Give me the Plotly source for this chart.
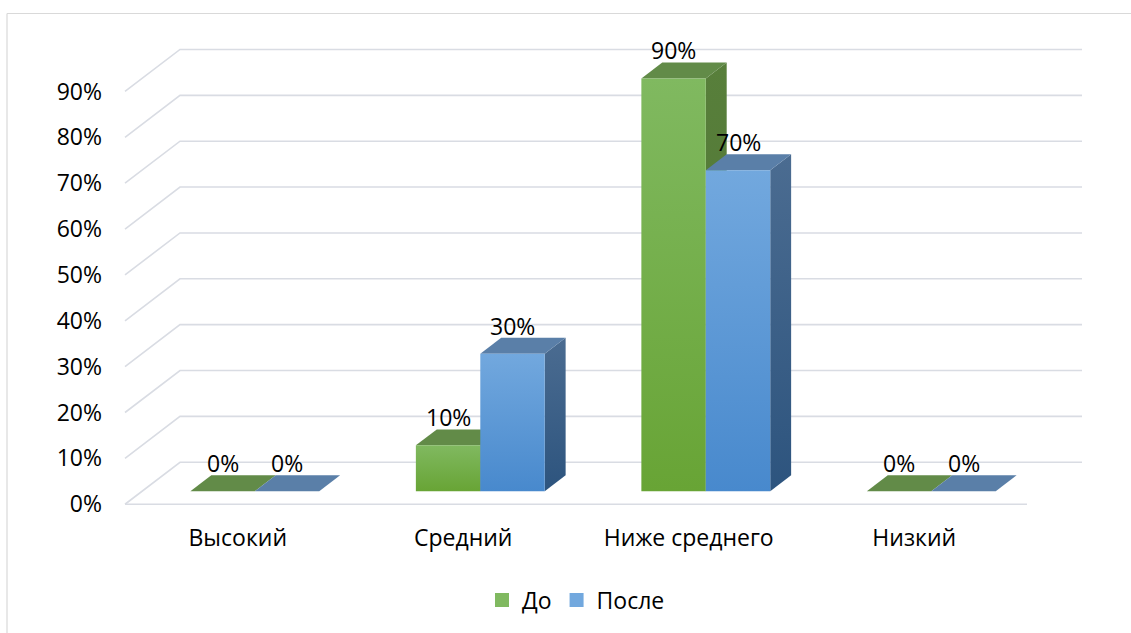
import plotly.graph_objects as go

# ---- data ----
categories = ["Высокий", "Средний", "Ниже среднего", "Низкий"]
before = [0, 10, 90, 0]    # До
after = [0, 30, 70, 0]     # После
series_names = ["До", "После"]
y_ticks = [0, 10, 20, 30, 40, 50, 60, 70, 80, 90]

# ---- page / projection setup (pixels) ----
W, H = 1131, 633
FRONT_L, FRONT_R = 125, 1027        # front plane, left/right
Y0_PX, Y90_PX = 504, 91             # front plane, 0% and 90%
DEPTH_PX = (55, 42)                 # shift from front plane to back wall
SX = (FRONT_R - FRONT_L) / len(categories)
SY = (Y0_PX - Y90_PX) / 90.0
DX = DEPTH_PX[0] / SX               # depth shift in axis units
DY = DEPTH_PX[1] / SY
D0, D1 = 0.31, 0.69                 # bar depth span (fraction of floor depth)
GAP = 1.5                           # gap width relative to bar width
BW = 1.0 / (2 + GAP)

L_M, R_M = 103, 22
YMIN, YMAX = -3.0, 101.0
XMIN = -(FRONT_L - L_M) / SX
XMAX = (W - R_M - FRONT_L) / SX
T_M = Y90_PX - (YMAX - 90) * SY
B_M = H - (Y0_PX - YMIN * SY)

FONT = "Open Sans"
FS = 23
GRID = "#d9dce3"

# face colours: (top of gradient, bottom of gradient)
STYLE = {
    "До": dict(front=("#80b960", "#68a435"), side=("#587f3b", "#4f7433"), top="#628b48"),
    "После": dict(front=("#72a8de", "#4889cd"), side=("#4b6c91", "#2d547e"), top="#5a7fa8"),
}

fig = go.Figure()

# ---- walls: back-wall gridlines with left-side diagonals, front floor edge ----
gx, gy = [], []
for t in y_ticks:
    gx += [0, DX, len(categories) + DX, None]
    gy += [t, t + DY, t + DY, None]
gx += [0, len(categories), None]
gy += [0, 0, None]
fig.add_trace(go.Scatter(x=gx, y=gy, mode="lines", line=dict(color=GRID, width=1.6),
                         hoverinfo="skip", showlegend=False))


def poly(xs, ys, fill, grad=None):
    kw = dict(x=xs + [xs[0]], y=ys + [ys[0]], mode="lines", fill="toself",
              line=dict(width=0), hoverinfo="skip", showlegend=False)
    if grad:
        kw["fillgradient"] = dict(type="vertical",
                                  colorscale=[[0, grad[1]], [1, grad[0]]])
        kw["fillcolor"] = grad[0]
    else:
        kw["fillcolor"] = fill
    fig.add_trace(go.Scatter(**kw))


ox0, oy0 = D0 * DX, D0 * DY
ox1, oy1 = D1 * DX, D1 * DY
annotations = []

for ci, cat in enumerate(categories):
    for si, (name, vals) in enumerate(zip(series_names, [before, after])):
        v = vals[ci]
        st = STYLE[name]
        left = ci + (GAP * BW) / 2 + si * BW
        xl, xr = left + ox0, left + BW + ox0
        # side face
        if v > 0:
            poly([xr, xr + (ox1 - ox0), xr + (ox1 - ox0), xr],
                 [oy0, oy1, v + oy1, v + oy0], None, st["side"])
        # top face
        poly([xl, xr, xr + (ox1 - ox0), xl + (ox1 - ox0)],
             [v + oy0, v + oy0, v + oy1, v + oy1], st["top"])
        # front face
        if v > 0:
            poly([xl, xr, xr, xl], [oy0, oy0, v + oy0, v + oy0], None, st["front"])
        annotations.append(dict(x=(xl + xr) / 2, y=v + oy1, xref="x", yref="y",
                                text=f"{v}%", showarrow=False, yanchor="bottom",
                                yshift=-6, font=dict(family=FONT, size=FS, color="#000000")))

# legend-only entries
for name in series_names:
    fig.add_trace(go.Scatter(x=[None], y=[None], mode="markers", name=name,
                             marker=dict(symbol="square", size=14,
                                         color=STYLE[name]["front"][0],
                                         line=dict(width=0))))

pw = W - L_M - R_M
ph = H - T_M - B_M


def px_to_paper(px, py):
    return (px - L_M) / pw, 1 - (py - T_M) / ph


bx0, by0 = px_to_paper(7, 13)
bx1, _ = px_to_paper(W + 5, 13)
_, by1 = px_to_paper(7, H + 5)
shapes = [
    dict(type="line", xref="paper", yref="paper", x0=bx0, y0=by0, x1=bx1, y1=by0,
         line=dict(color="#d9d9d9", width=1.2)),
    dict(type="line", xref="paper", yref="paper", x0=bx0, y0=by0, x1=bx0, y1=by1,
         line=dict(color="#d9d9d9", width=1.2)),
]

fig.update_layout(
    width=W, height=H,
    margin=dict(l=L_M, r=R_M, t=T_M, b=B_M, pad=0),
    paper_bgcolor="white", plot_bgcolor="white",
    font=dict(family=FONT, size=FS, color="#000000"),
    xaxis=dict(range=[XMIN, XMAX], showgrid=False, zeroline=False, showline=False,
               tickvals=[i + 0.5 for i in range(len(categories))], ticktext=categories,
               ticks="", ticklabelstandoff=4,
               tickfont=dict(family=FONT, size=FS, color="#000000"),
               fixedrange=True),
    yaxis=dict(range=[YMIN, YMAX], showgrid=False, zeroline=False, showline=False,
               tickvals=y_ticks, ticktext=[f"{t}%" for t in y_ticks], ticks="",
               tickfont=dict(family=FONT, size=FS, color="#000000"), fixedrange=True),
    showlegend=True,
    legend=dict(orientation="h", xref="container", yref="container",
                x=576 / W, xanchor="center", y=1 - 600 / H, yanchor="middle",
                font=dict(family=FONT, size=FS, color="#000000"),
                bgcolor="rgba(0,0,0,0)", itemclick=False, itemdoubleclick=False),
    annotations=annotations,
    shapes=shapes,
)

fig.write_html("out.html")
